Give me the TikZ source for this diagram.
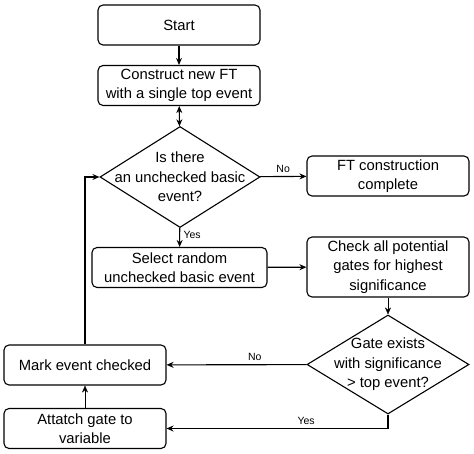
\documentclass[tikz,border=0pt]{standalone}
\usepackage{fontspec}
\setmainfont{Liberation Sans}
\usetikzlibrary{shapes.geometric,arrows.meta}

\begin{document}
\begin{tikzpicture}[x=1pt, y=-1pt, >={Stealth[length=7pt,width=6pt]}]
\tikzset{stepbox/.style={draw, rounded corners=5pt, line width=1.1pt, minimum width=162pt, minimum height=40pt, align=center, inner sep=0pt, font=\fontsize{14.8}{19.5}\selectfont},
decision/.style={draw, diamond, line width=1.1pt, minimum width=160pt, minimum height=101pt, inner sep=0pt},
decisiontext/.style={align=center, font=\fontsize{14.8}{19.5}\selectfont},
edgelabel/.style={font=\fontsize{10.5}{12}\selectfont}}

\useasboundingbox (0,0) rectangle (474,454);

\node (start) [stepbox] at (179, 25) {Start};
\node (build) [stepbox] at (179, 85.5) {Construct new FT\\with a single top event};
\node (q1) [decision] at (180, 177) {};
\node (q1text) [decisiontext] at (q1) {Is there\\an unchecked basic\\event?};
\node (done) [stepbox] at (388, 176) {FT construction\\complete};
\node (select) [stepbox, minimum width=175pt] at (179.5, 267.5) {Select random\\unchecked basic event};
\node (check) [stepbox, minimum height=60pt] at (388, 267) {Check all potential\\gates for highest\\significance};
\node (q2) [decision, minimum width=162pt, minimum height=99pt] at (388, 364.5) {};
\node (q2text) [decisiontext] at (q2) {Gate exists\\with significance\\> top event?};
\node (mark) [stepbox] at (85, 365) {Mark event checked};
\node (attach) [stepbox] at (85, 428.5) {Attatch gate to\\variable};

%% Edges
\draw[->, line width=1.1pt] (start) -- (build);
\draw[<->, line width=1.1pt] (build) -- (q1);
\draw[->, line width=1.1pt] (q1) -- node[edgelabel, above] {No} (done);
\draw[->, line width=1.1pt] (q1) -- node[edgelabel, anchor=west, pos=0.35] {Yes} (select);
\draw[->, line width=1.1pt] (select) -- (check);
\draw[->] (check) -- (q2);
\draw[->, line width=1.1pt] (q2) -- node[edgelabel, above, pos=0.37] {No} (mark);
\draw[->, line width=1.1pt] (q2.south) |- node[edgelabel, above, pos=0.685] {Yes} (attach);
\draw[->] (attach) -- (mark);
\draw[->, line width=1.1pt] (mark.north) |- (q1.west);

\end{tikzpicture}
\end{document}
